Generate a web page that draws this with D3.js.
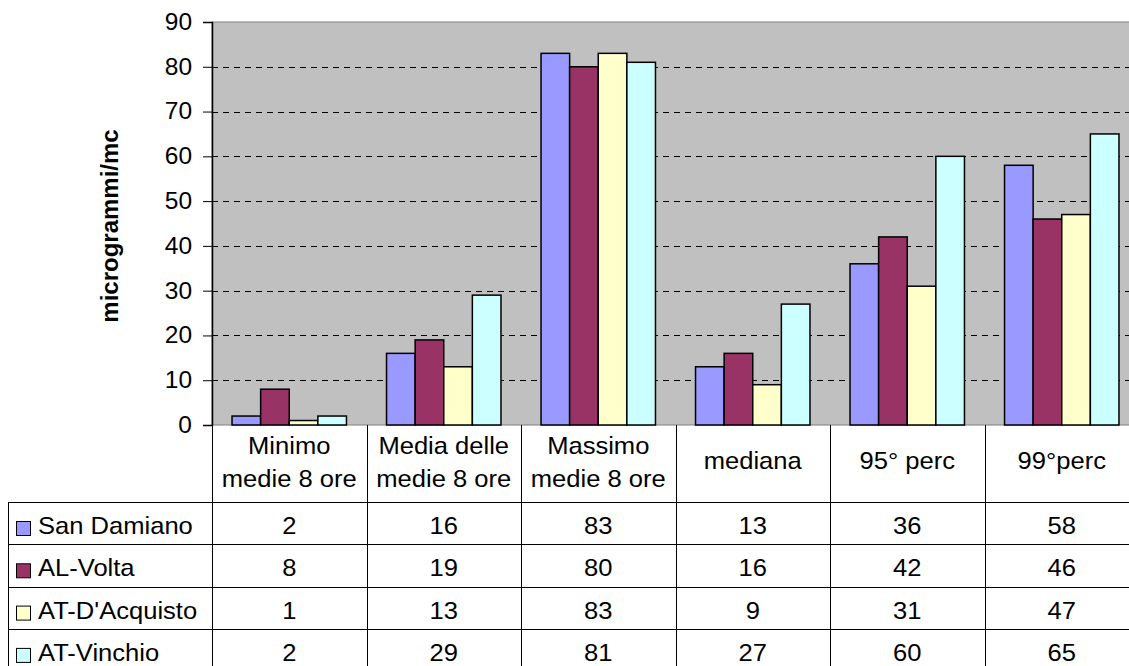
<!DOCTYPE html>
<html>
<head>
<meta charset="utf-8">
<script src="https://cdn.jsdelivr.net/npm/d3@7"></script>
<style>
  body { margin: 0; background: #fff; overflow: hidden; }
  svg { font-family: "Liberation Sans", Arial, sans-serif; }
</style>
</head>
<body>
<div id="chart"></div>
<script>
const categories = [
  ['Minimo', 'medie 8 ore'],
  ['Media delle', 'medie 8 ore'],
  ['Massimo', 'medie 8 ore'],
  ['mediana'],
  ['95° perc'],
  ['99°perc']
];
const seriesNames = ['San Damiano', 'AL-Volta', 'AT-D\'Acquisto', 'AT-Vinchio'];
const sanDamiano = [2, 16, 83, 13, 36, 58];
const alVolta = [8, 19, 80, 16, 42, 46];
const atDAcquisto = [1, 13, 83, 9, 31, 47];
const atVinchio = [2, 29, 81, 27, 60, 65];
const yTicks = [0, 10, 20, 30, 40, 50, 60, 70, 80, 90];

const seriesValues = [sanDamiano, alVolta, atDAcquisto, atVinchio];
const colors = ['#9999FF', '#993366', '#FFFFCC', '#CCFFFF'];

const W = 1129, H = 666;
const plot = { left: 212, right: 1139, top: 22, bottom: 425 };
const tableLeft = 8;
const headerBottom = 502;
const rowH = 42.3;
const fontSize = 24;
const stretch = 1.065; // text in the original is slightly wide

const svg = d3.select('#chart').append('svg')
  .attr('width', W).attr('height', H);

const x = d3.scaleBand()
  .domain(d3.range(categories.length))
  .range([plot.left, plot.right]);

const xInner = d3.scaleBand()
  .domain(d3.range(seriesNames.length))
  .range([0, x.bandwidth()])
  .paddingOuter(0.7);

const y = d3.scaleLinear()
  .domain([0, 90])
  .range([plot.bottom, plot.top]);

// plot background
svg.append('rect')
  .attr('x', plot.left).attr('y', plot.top)
  .attr('width', plot.right - plot.left).attr('height', plot.bottom - plot.top)
  .attr('fill', '#C0C0C0')
  .attr('stroke', '#808080').attr('stroke-width', 1);

// gridlines
svg.append('g')
  .selectAll('line')
  .data(yTicks.filter(t => t > 0 && t < 90))
  .enter().append('line')
  .attr('x1', plot.left).attr('x2', plot.right)
  .attr('y1', d => Math.round(y(d)) + 0.5).attr('y2', d => Math.round(y(d)) + 0.5)
  .attr('stroke', '#000').attr('stroke-dasharray', '6,5');

// bars
const groups = svg.append('g')
  .selectAll('g')
  .data(seriesValues)
  .enter().append('g')
  .attr('fill', (d, i) => colors[i]);

groups.selectAll('rect')
  .data((vals, si) => vals.map((v, ci) => ({ v, ci, si })))
  .enter().append('rect')
  .attr('x', d => x(d.ci) + xInner(d.si))
  .attr('width', xInner.bandwidth())
  .attr('y', d => y(d.v))
  .attr('height', d => y(0) - y(d.v))
  .attr('stroke', '#000').attr('stroke-width', 1.5);

// y axis
const yAxis = svg.append('g')
  .attr('transform', `translate(${plot.left},0)`)
  .call(d3.axisLeft(y).tickValues(yTicks).tickSize(9).tickPadding(11));
yAxis.select('.domain').attr('stroke', '#000').attr('stroke-width', 1.5);
yAxis.selectAll('.tick line').attr('stroke', '#000');
yAxis.selectAll('text')
  .attr('x', null)
  .attr('transform', `translate(-20,0) scale(${stretch},1)`)
  .attr('font-size', 23).attr('fill', '#000')
  .attr('font-family', '"Liberation Sans", Arial, sans-serif');

// axis title
svg.append('text')
  .attr('transform', 'translate(118,226) rotate(-90)')
  .attr('text-anchor', 'middle')
  .attr('font-size', fontSize).attr('font-weight', 'bold')
  .text('microgrammi/mc');

// data table
const table = svg.append('g').attr('stroke', '#000').attr('stroke-width', 1);
const tableBottom = headerBottom + rowH * seriesNames.length;

table.selectAll('.hline')
  .data(d3.range(seriesNames.length + 1))
  .enter().append('line')
  .attr('x1', tableLeft).attr('x2', plot.right)
  .attr('y1', i => Math.round(headerBottom + i * rowH) + 0.5)
  .attr('y2', i => Math.round(headerBottom + i * rowH) + 0.5);

table.selectAll('.vline')
  .data(d3.range(categories.length + 1))
  .enter().append('line')
  .attr('x1', i => Math.round(i < categories.length ? x(i) : plot.right) + 0.5)
  .attr('x2', i => Math.round(i < categories.length ? x(i) : plot.right) + 0.5)
  .attr('y1', plot.bottom).attr('y2', tableBottom);

table.append('line')
  .attr('x1', tableLeft + 0.5).attr('x2', tableLeft + 0.5)
  .attr('y1', headerBottom).attr('y2', tableBottom);

// category headers
svg.append('g')
  .selectAll('text')
  .data(categories)
  .enter().append('text')
  .attr('text-anchor', 'middle')
  .attr('font-size', fontSize)
  .attr('transform', (d, i) =>
    `translate(${x(i) + x.bandwidth() / 2},${d.length === 2 ? 454 : 469}) scale(${stretch},1)`)
  .selectAll('tspan')
  .data(d => d)
  .enter().append('tspan')
  .attr('x', 0)
  .attr('dy', (d, i) => i === 0 ? 0 : 33)
  .text(d => d);

// rows
const rows = svg.append('g')
  .selectAll('g')
  .data(seriesNames)
  .enter().append('g')
  .attr('transform', (d, i) => `translate(0,${headerBottom + i * rowH})`);

rows.append('rect')
  .attr('x', 16.5).attr('y', 19.5)
  .attr('width', 14).attr('height', 14)
  .attr('fill', (d, i) => colors[i])
  .attr('stroke', '#000');

rows.append('text')
  .attr('transform', `translate(38,32) scale(${stretch},1)`)
  .attr('font-size', fontSize)
  .text(d => d);

rows.selectAll('.val')
  .data((d, i) => seriesValues[i])
  .enter().append('text')
  .attr('text-anchor', 'middle')
  .attr('font-size', fontSize)
  .attr('transform', (d, i) => `translate(${x(i) + x.bandwidth() / 2},32) scale(${stretch},1)`)
  .text(d => d);
</script>
</body>
</html>
